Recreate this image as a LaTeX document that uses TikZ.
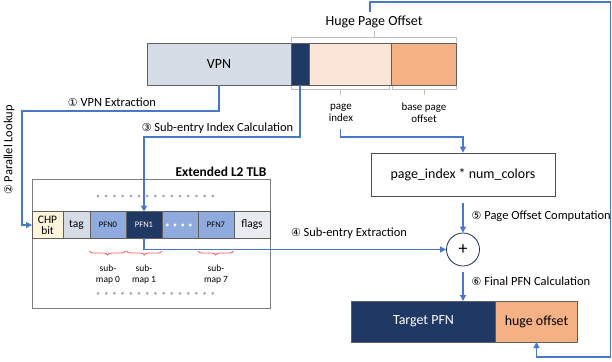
\documentclass[tikz,border=0pt]{standalone}
\usepackage{fontspec}
\setmainfont{Carlito}
\newfontfamily\symfont{DejaVu Sans}
\usetikzlibrary{decorations.pathreplacing,arrows.meta}
\definecolor{vpnfill}{HTML}{D6DCE5}
\definecolor{navy}{HTML}{203864}
\definecolor{peach}{HTML}{FBE5D6}
\definecolor{orangefill}{HTML}{F4B183}
\definecolor{edge}{HTML}{5F5F5F}
\definecolor{conn}{HTML}{4A78C8}
\definecolor{pfnblue}{HTML}{8FAADC}
\definecolor{chpfill}{HTML}{FFF4DC}
\definecolor{flagfill}{HTML}{E8EBF0}
\definecolor{dotgray}{HTML}{A6A6A6}
\definecolor{bracegray}{HTML}{BFBFBF}
\definecolor{bracered}{HTML}{FF5A5F}
\newcommand\cnum[1]{{\symfont\fontsize{11}{12}\selectfont #1}}
\tikzset{
  field/.style={draw=edge, line width=0.8pt, inner sep=0pt, outer sep=0pt,
    font=\fontsize{14}{16}\selectfont, align=center},
  cell/.style={draw=edge, line width=0.8pt, inner sep=0pt, outer sep=0pt,
    minimum height=26.6bp, align=center, font=\fontsize{11.5}{13}\selectfont},
  pfncell/.style={cell, fill=pfnblue, minimum width=36bp, font=\fontsize{8.5}{9}\selectfont},
  connector/.style={draw=conn, line width=1.1pt, -{Triangle[length=6bp,width=6bp]}},
  steplabel/.style={font=\fontsize{12.5}{14}\selectfont, inner sep=0pt},
  small/.style={font=\fontsize{11}{12.5}\selectfont, align=center, inner sep=0pt},
  maplabel/.style={font=\fontsize{9.5}{11.5}\selectfont, align=center, inner sep=0pt},
  bracket/.style={draw=bracegray, line width=0.9pt},
  subbrace/.style={draw=bracered, line width=0.8pt,
    decorate, decoration={brace, mirror, amplitude=4bp}},
}
\begin{document}
\begin{tikzpicture}[x=1bp, y=-1bp]
\useasboundingbox (0,0) rectangle (612,361);

% virtual address fields
\node[field, fill=vpnfill, minimum width=144bp, minimum height=42bp] (vpn) at (219,64) {VPN};
\node[field, fill=navy, minimum width=18bp, minimum height=42bp] (navybit) at (300,64) {};
\node[field, fill=peach, minimum width=82bp, minimum height=42bp] (pidx) at (350,64) {};
\node[field, fill=orangefill, minimum width=65bp, minimum height=42bp] (bpo) at (423.5,64) {};

% bracket over the huge page offset
\draw[bracket] (291,41.5) -- (291,37) -- (456,37) -- (456,41.5);
\draw[bracket] (374,37) -- (374,31);
\node[inner sep=0pt, font=\fontsize{14}{16}\selectfont] (hpo) at (374,22) {Huge Page Offset};

% brackets under the offset bits
\draw[bracket] (291,86) -- (291,89.5) -- (389,89.5) -- (389,86);
\draw[bracket] (340,89.5) -- (340,95);
\draw[bracket] (392,86) -- (392,89.5) -- (456,89.5) -- (456,86);
\draw[bracket] (424,89.5) -- (424,95);
\node[small] (pilabel) at (341,113) {page\\index};
\node[small] (bpolabel) at (424,113) {base page\\offset};

% extended L2 TLB
\node[draw=edge!80, line width=0.8pt, minimum width=238bp, minimum height=129.5bp,
  inner sep=0pt, outer sep=0pt] (tlb) at (151,244) {};
\node[inner sep=0pt, font=\bfseries\fontsize{13.5}{15}\selectfont] (tlbtitle) at (221,172) {Extended L2 TLB};
\node[cell, fill=chpfill, minimum width=31bp] (chp) at (47.5,225) {CHP\\[-2pt]bit};
\node[cell, fill=vpnfill, minimum width=27bp] (tag) at (76.5,225) {tag};
\node[pfncell] (pfn0) at (108,225) {PFN0};
\node[pfncell, fill=navy, text=white] (pfn1) at (144,225) {PFN1};
\node[pfncell] (pfndots) at (180,225) {};
\node[pfncell] (pfn7) at (216,225) {PFN7};
\node[cell, fill=flagfill, minimum width=36bp] (flags) at (252,225) {flags};
\foreach \x in {167.3,175,182.7,190.3}
  \fill[white] (\x,225) circle (1.6bp);
\foreach \i in {0,...,14} {
  \fill[dotgray] (98+\i*8.2,196) circle (1.5bp);
  \fill[dotgray] (98+\i*8.2,293.3) circle (1.5bp);
}
\draw[subbrace] (89.5,251) -- (125.5,251);
\draw[subbrace] (126.5,251) -- (162,251);
\draw[subbrace] (198,251) -- (233.5,251);
\node[maplabel] (sm0) at (108,274.5) {sub-\\map 0};
\node[maplabel] (sm1) at (144,274.5) {sub-\\map 1};
\node[maplabel] (sm7) at (216,274.5) {sub-\\map 7};

% computation boxes
\node[draw=edge!80!black, line width=0.8pt, minimum width=184bp, minimum height=43bp,
  inner sep=0pt, font=\fontsize{14}{16}\selectfont] (pcalc) at (463,174.5) {page\_index * num\_colors};
\node[draw=navy!80!black, circle, line width=0.8pt, minimum size=33bp, inner sep=0pt,
  font=\fontsize{18}{18}\selectfont] (plus) at (463,249.5) {+};
\node[field, fill=navy, text=white, minimum width=145bp, minimum height=41bp] (tpfn) at (423.5,321.5) {Target PFN};
\node[field, fill=orangefill, minimum width=82bp, minimum height=41bp] (hoff) at (536.5,321.5) {huge offset};

% connectors
\coordinate (b1) at (22,111);
\draw[connector] (vpn.south) |- (b1) |- (chp.west);
\coordinate (b3) at (144,137);
\draw[connector] (navybit.south) |- (b3) -- (pfn1.north);
\coordinate (pistart) at (340.5,129);
\coordinate (b4) at (463,137);
\draw[connector] (pistart) |- (b4) -- (pcalc.north);
\draw[connector, shorten <=7bp] (pcalc.south) -- (plus.north);
\draw[connector] (pfn1.south) |- (plus.west);
\draw[connector, shorten <=6bp] (plus.south) -- (tpfn.north -| plus.south);
\coordinate (h0) at (370,12);
\coordinate (h2) at (610.5,2);
\coordinate (h3) at (610.5,357);
\draw[connector] (h0) |- (h2) -- (h3) -| (hoff.south);

% step labels
\node[steplabel] (s1) at (112,102) {\cnum{①} VPN Extraction};
\node[steplabel, rotate=90] (s2) at (9,150) {\cnum{②} Parallel Lookup};
\node[steplabel] (s3) at (217.5,128) {\cnum{③} Sub-entry Index Calculation};
\node[steplabel] (s4) at (349,233) {\cnum{④} Sub-entry Extraction};
\node[steplabel, anchor=west] (s5) at (471.5,216) {\cnum{⑤} Page Offset Computation};
\node[steplabel, anchor=west] (s6) at (471.5,281) {\cnum{⑥} Final PFN Calculation};
\end{tikzpicture}
\end{document}
